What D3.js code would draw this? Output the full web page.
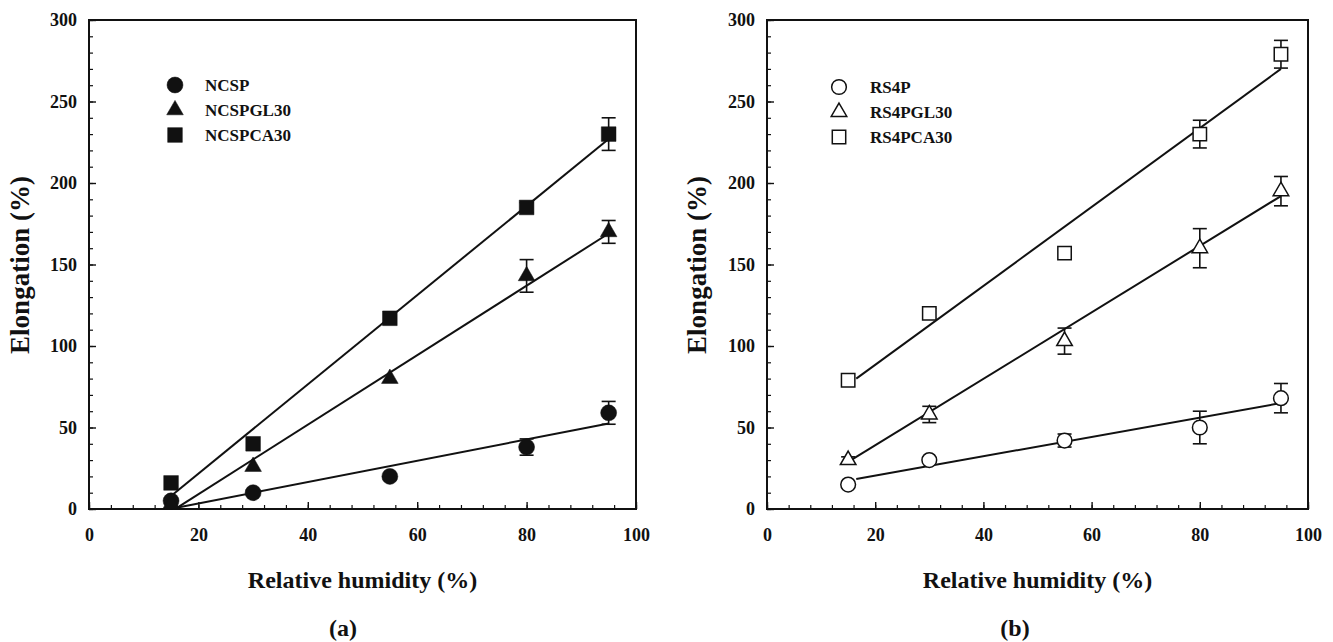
<!DOCTYPE html>
<html>
<head>
<meta charset="utf-8">
<script src="https://cdn.jsdelivr.net/npm/d3@7"></script>
<style>
  html, body { margin: 0; padding: 0; background: #fff; }
  svg { display: block; }
  text { font-family: "Liberation Serif", "DejaVu Serif", "Times New Roman", serif; font-weight: bold; fill: #111; }
</style>
</head>
<body>
<svg id="chart" width="1333" height="642"></svg>
<script>
// ---------- data ----------
const humidity = [15, 30, 55, 80, 95];
const xTicks = [0, 20, 40, 60, 80, 100];
const yTicks = [0, 50, 100, 150, 200, 250, 300];

// Panel (a)
const ncspNames = ["NCSP", "NCSPGL30", "NCSPCA30"];
const ncsp      = [5, 10, 20, 38, 59];
const ncspErr   = [0, 0, 0, 5, 7];
const ncspgl30    = [3, 26, 80, 143, 170];
const ncspgl30Err = [0, 0, 0, 10, 7];
const ncspca30    = [16, 40, 117, 185, 230];
const ncspca30Err = [0, 0, 0, 3, 10];
// fitted lines: [x start, x end], [y start, y end]
const ncspFitX = [16, 95],   ncspFitY = [0.8, 52.5];
const ncspgl30FitX = [16, 95], ncspgl30FitY = [0.5, 169];
const ncspca30FitX = [15, 95], ncspca30FitY = [8, 227];

// Panel (b)
const rs4pNames = ["RS4P", "RS4PGL30", "RS4PCA30"];
const rs4p      = [15, 30, 42, 50, 68];
const rs4pErr   = [0, 0, 4, 10, 9];
const rs4pgl30    = [30, 58, 103, 160, 195];
const rs4pgl30Err = [2, 5, 8, 12, 9];
const rs4pca30    = [79, 120, 157, 230, 279];
const rs4pca30Err = [0, 3, 0, 8.5, 8.5];
const rs4pFitX = [16.5, 95],   rs4pFitY = [18.4, 65];
const rs4pgl30FitX = [15.3, 95], rs4pgl30FitY = [29.5, 192];
const rs4pca30FitX = [16.5, 95], rs4pca30FitY = [80, 270];

const xLabel = "Relative humidity (%)";
const yLabel = "Elongation (%)";

// ---------- drawing ----------
const svg = d3.select("#chart");
const ink = "#111";
const serif = '"Liberation Serif", "DejaVu Serif", "Times New Roman", serif';

const panels = [
  { box: {left: 89, right: 636, top: 20, bottom: 509}, filled: true, names: ncspNames,
    series: [
      {v: ncsp, e: ncspErr, fx: ncspFitX, fy: ncspFitY, sym: d3.symbolCircle},
      {v: ncspgl30, e: ncspgl30Err, fx: ncspgl30FitX, fy: ncspgl30FitY, sym: d3.symbolTriangle},
      {v: ncspca30, e: ncspca30Err, fx: ncspca30FitX, fy: ncspca30FitY, sym: d3.symbolSquare}],
    legend: {x: 175, y: 85, tx: 205}, yTitleX: 20, tag: "(a)", tagX: 343 },
  { box: {left: 767, right: 1308, top: 20, bottom: 509}, filled: false, names: rs4pNames,
    series: [
      {v: rs4p, e: rs4pErr, fx: rs4pFitX, fy: rs4pFitY, sym: d3.symbolCircle},
      {v: rs4pgl30, e: rs4pgl30Err, fx: rs4pgl30FitX, fy: rs4pgl30FitY, sym: d3.symbolTriangle},
      {v: rs4pca30, e: rs4pca30Err, fx: rs4pca30FitX, fy: rs4pca30FitY, sym: d3.symbolSquare}],
    legend: {x: 839, y: 87, tx: 870}, yTitleX: 697, tag: "(b)", tagX: 1015 }
];

function symSize(sym, filled) {
  if (sym === d3.symbolCircle) return filled ? 200 : 170;
  if (sym === d3.symbolSquare) return filled ? 215 : 180;
  return filled ? 120 : 105;
}

panels.forEach(p => {
  const b = p.box;
  const x = d3.scaleLinear().domain([0, 100]).range([b.left, b.right]);
  const y = d3.scaleLinear().domain([0, 300]).range([b.bottom, b.top]);
  const g = svg.append("g");

  const clipId = "clip" + p.tag.replace(/[()]/g, "");
  svg.append("clipPath").attr("id", clipId).append("rect")
    .attr("x", b.left).attr("y", b.top).attr("width", b.right - b.left).attr("height", b.bottom - b.top);

  // minor ticks
  g.append("g").attr("transform", `translate(0,${b.bottom})`)
    .call(d3.axisBottom(x).tickValues(d3.range(0, 101, 4)).tickSize(-4).tickFormat(""))
    .call(a => a.select(".domain").remove())
    .call(a => a.selectAll("line").attr("stroke", ink).attr("stroke-width", 1.2));
  g.append("g").attr("transform", `translate(${b.left},0)`)
    .call(d3.axisLeft(y).tickValues(d3.range(0, 301, 10)).tickSize(-4).tickFormat(""))
    .call(a => a.select(".domain").remove())
    .call(a => a.selectAll("line").attr("stroke", ink).attr("stroke-width", 1.2));

  // major ticks + labels
  g.append("g").attr("transform", `translate(0,${b.bottom})`)
    .call(d3.axisBottom(x).tickValues(xTicks).tickSize(-7).tickPadding(19).tickFormat(d3.format("d")))
    .attr("font-family", serif)
    .call(a => a.select(".domain").remove())
    .call(a => a.selectAll("line").attr("stroke", ink).attr("stroke-width", 1.4))
    .call(a => a.selectAll("text").style("font-size", "18px").attr("fill", ink));
  g.append("g").attr("transform", `translate(${b.left},0)`)
    .call(d3.axisLeft(y).tickValues(yTicks).tickSize(-7).tickPadding(12).tickFormat(d3.format("d")))
    .attr("font-family", serif)
    .call(a => a.select(".domain").remove())
    .call(a => a.selectAll("line").attr("stroke", ink).attr("stroke-width", 1.4))
    .call(a => a.selectAll("text").style("font-size", "18px").attr("fill", ink));

  // frame
  g.append("rect").attr("x", b.left).attr("y", b.top)
    .attr("width", b.right - b.left).attr("height", b.bottom - b.top)
    .attr("fill", "none").attr("stroke", ink).attr("stroke-width", 2);

  const plot = g.append("g").attr("clip-path", `url(#${clipId})`);

  // error bars
  p.series.forEach(s => {
    humidity.forEach((h, i) => {
      if (!s.e[i]) return;
      const cx = x(h), y1 = y(s.v[i] + s.e[i]), y2 = y(s.v[i] - s.e[i]);
      plot.append("line").attr("x1", cx).attr("x2", cx).attr("y1", y1).attr("y2", y2)
        .attr("stroke", ink).attr("stroke-width", 1.6);
      [y1, y2].forEach(yy => plot.append("line").attr("x1", cx - 7).attr("x2", cx + 7)
        .attr("y1", yy).attr("y2", yy).attr("stroke", ink).attr("stroke-width", 1.6));
    });
  });

  // fit lines
  p.series.forEach(s => {
    plot.append("line")
      .attr("x1", x(s.fx[0])).attr("y1", y(s.fy[0]))
      .attr("x2", x(s.fx[1])).attr("y2", y(s.fy[1]))
      .attr("stroke", ink).attr("stroke-width", 2);
  });

  // markers
  p.series.forEach(s => {
    const path = d3.symbol().type(s.sym).size(symSize(s.sym, p.filled))();
    humidity.forEach((h, i) => {
      g.append("path").attr("d", path)
        .attr("transform", `translate(${x(h)},${y(s.v[i])})`)
        .attr("fill", p.filled ? ink : "#fff")
        .attr("stroke", ink).attr("stroke-width", p.filled ? 0.5 : 1.5);
    });
  });

  // legend
  p.series.forEach((s, i) => {
    const ly = p.legend.y + i * 25;
    const path = d3.symbol().type(s.sym).size(symSize(s.sym, p.filled))();
    g.append("path").attr("d", path)
      .attr("transform", `translate(${p.legend.x},${ly})`)
      .attr("fill", p.filled ? ink : "#fff")
      .attr("stroke", ink).attr("stroke-width", p.filled ? 0.5 : 1.5);
    g.append("text").attr("x", p.legend.tx).attr("y", ly + 6)
      .style("font-size", "17px").text(p.names[i]);
  });

  // axis titles
  g.append("text").attr("x", (b.left + b.right) / 2).attr("y", 588)
    .attr("text-anchor", "middle").style("font-size", "24px").text(xLabel);
  g.append("text").attr("transform", `translate(${p.yTitleX + 9},265) rotate(-90)`)
    .attr("text-anchor", "middle").style("font-size", "27px").text(yLabel);
  g.append("text").attr("x", p.tagX).attr("y", 636)
    .attr("text-anchor", "middle").style("font-size", "24px").text(p.tag);
});
</script>
</body>
</html>
